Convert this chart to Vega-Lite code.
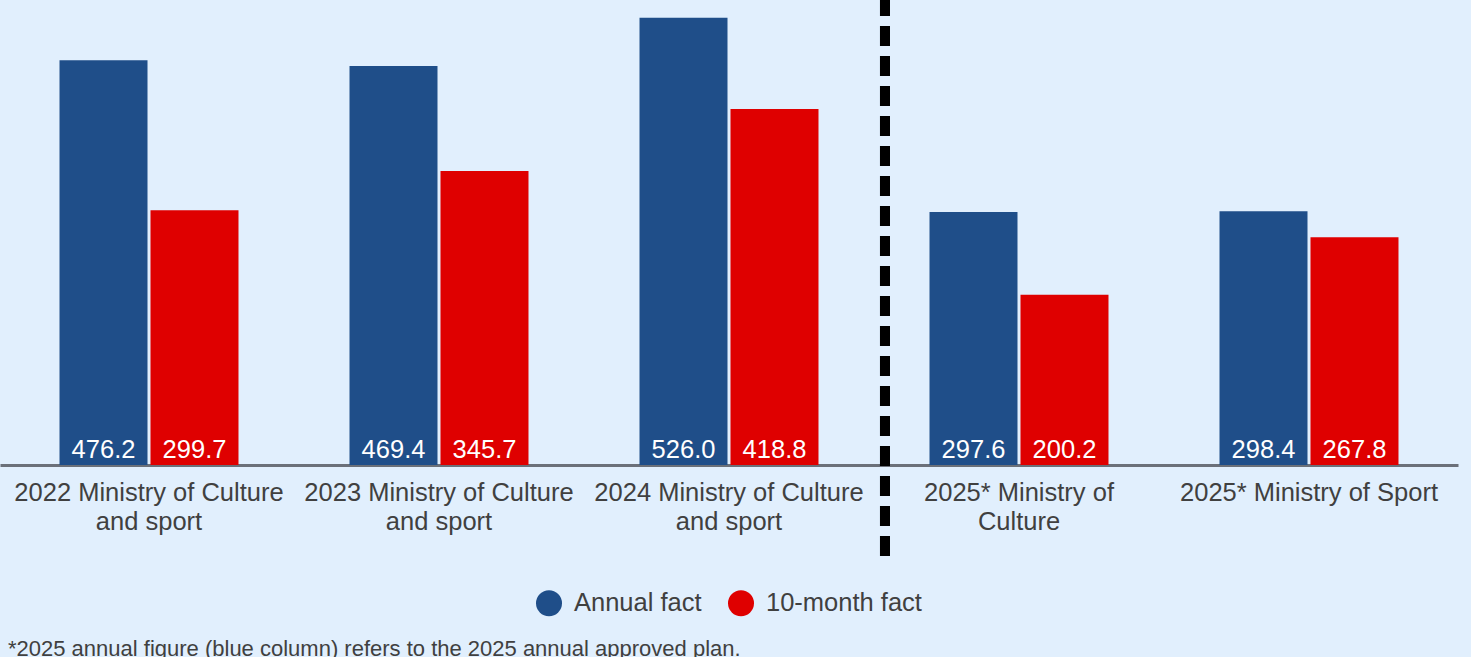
{
  "$schema": "https://vega.github.io/schema/vega-lite/v6.json",
  "autosize": {"type": "none"},
  "width": 1458,
  "height": 465,
  "padding": {"left": 0, "top": 0, "right": 13, "bottom": 192},
  "background": "#e1effd",
  "config": {
    "view": {"stroke": null},
    "font": "Liberation Sans",
    "legend": {"layout": {"bottom": {"anchor": "middle"}}}
  },
  "title": {
    "text": "*2025 annual figure (blue column) refers to the 2025 annual approved plan.",
    "orient": "bottom",
    "anchor": "start",
    "frame": "group",
    "fontSize": 22,
    "fontWeight": "normal",
    "color": "#404040",
    "offset": 22,
    "dx": 8
  },
  "data": {
    "values": [
      {"cat": "2022 Ministry of Culture|and sport", "series": "Annual fact", "value": 476.2},
      {"cat": "2022 Ministry of Culture|and sport", "series": "10-month fact", "value": 299.7},
      {"cat": "2023 Ministry of Culture|and sport", "series": "Annual fact", "value": 469.4},
      {"cat": "2023 Ministry of Culture|and sport", "series": "10-month fact", "value": 345.7},
      {"cat": "2024 Ministry of Culture|and sport", "series": "Annual fact", "value": 526.0},
      {"cat": "2024 Ministry of Culture|and sport", "series": "10-month fact", "value": 418.8},
      {"cat": "2025* Ministry of|Culture", "series": "Annual fact", "value": 297.6},
      {"cat": "2025* Ministry of|Culture", "series": "10-month fact", "value": 200.2},
      {"cat": "2025* Ministry of Sport", "series": "Annual fact", "value": 298.4},
      {"cat": "2025* Ministry of Sport", "series": "10-month fact", "value": 267.8}
    ]
  },
  "encoding": {
    "x": {
      "field": "cat",
      "type": "nominal",
      "sort": null,
      "scale": {"paddingInner": 0, "paddingOuter": 0.0138},
      "axis": {
        "title": null,
        "labelAngle": 0,
        "ticks": false,
        "labelExpr": "split(datum.label, '|')",
        "labelFontSize": 25.5,
        "labelColor": "#404040",
        "labelLineHeight": 29,
        "labelPadding": 15,
        "labelLimit": 400,
        "domainColor": "#6b7079",
        "domainWidth": 3,
        "grid": false
      }
    }
  },
  "layer": [
    {
      "mark": {"type": "bar"},
      "encoding": {
        "xOffset": {
          "field": "series",
          "type": "nominal",
          "sort": ["Annual fact", "10-month fact"],
          "scale": {"paddingInner": 0.033, "paddingOuter": 0.61}
        },
        "y": {
          "field": "value",
          "type": "quantitative",
          "scale": {"domain": [0, 547], "nice": false},
          "axis": null
        },
        "color": {
          "field": "series",
          "type": "nominal",
          "sort": ["Annual fact", "10-month fact"],
          "scale": {"domain": ["Annual fact", "10-month fact"], "range": ["#1f4e89", "#df0000"]},
          "legend": {
            "title": null,
            "orient": "bottom",
            "direction": "horizontal",
            "symbolType": "circle",
            "symbolSize": 676,
            "symbolStrokeWidth": 0,
            "symbolOpacity": 1,
            "labelFontSize": 25.5,
            "labelColor": "#404040",
            "labelOffset": 12,
            "columnPadding": 26,
            "offset": 55
          }
        }
      }
    },
    {
      "mark": {"type": "text", "color": "white", "fontSize": 25.5, "baseline": "alphabetic", "dy": -7},
      "encoding": {
        "xOffset": {
          "field": "series",
          "type": "nominal",
          "sort": ["Annual fact", "10-month fact"]
        },
        "y": {"datum": 0},
        "text": {"field": "value", "type": "quantitative", "format": ".1f"}
      }
    },
    {
      "mark": {"type": "rule", "color": "black", "strokeWidth": 10, "strokeDash": [20, 10], "strokeDashOffset": 4, "xOffset": 11},
      "encoding": {
        "x": {"datum": "2025* Ministry of|Culture", "bandPosition": 0},
        "y": {"datum": 547},
        "y2": {"datum": -107}
      }
    }
  ]
}
